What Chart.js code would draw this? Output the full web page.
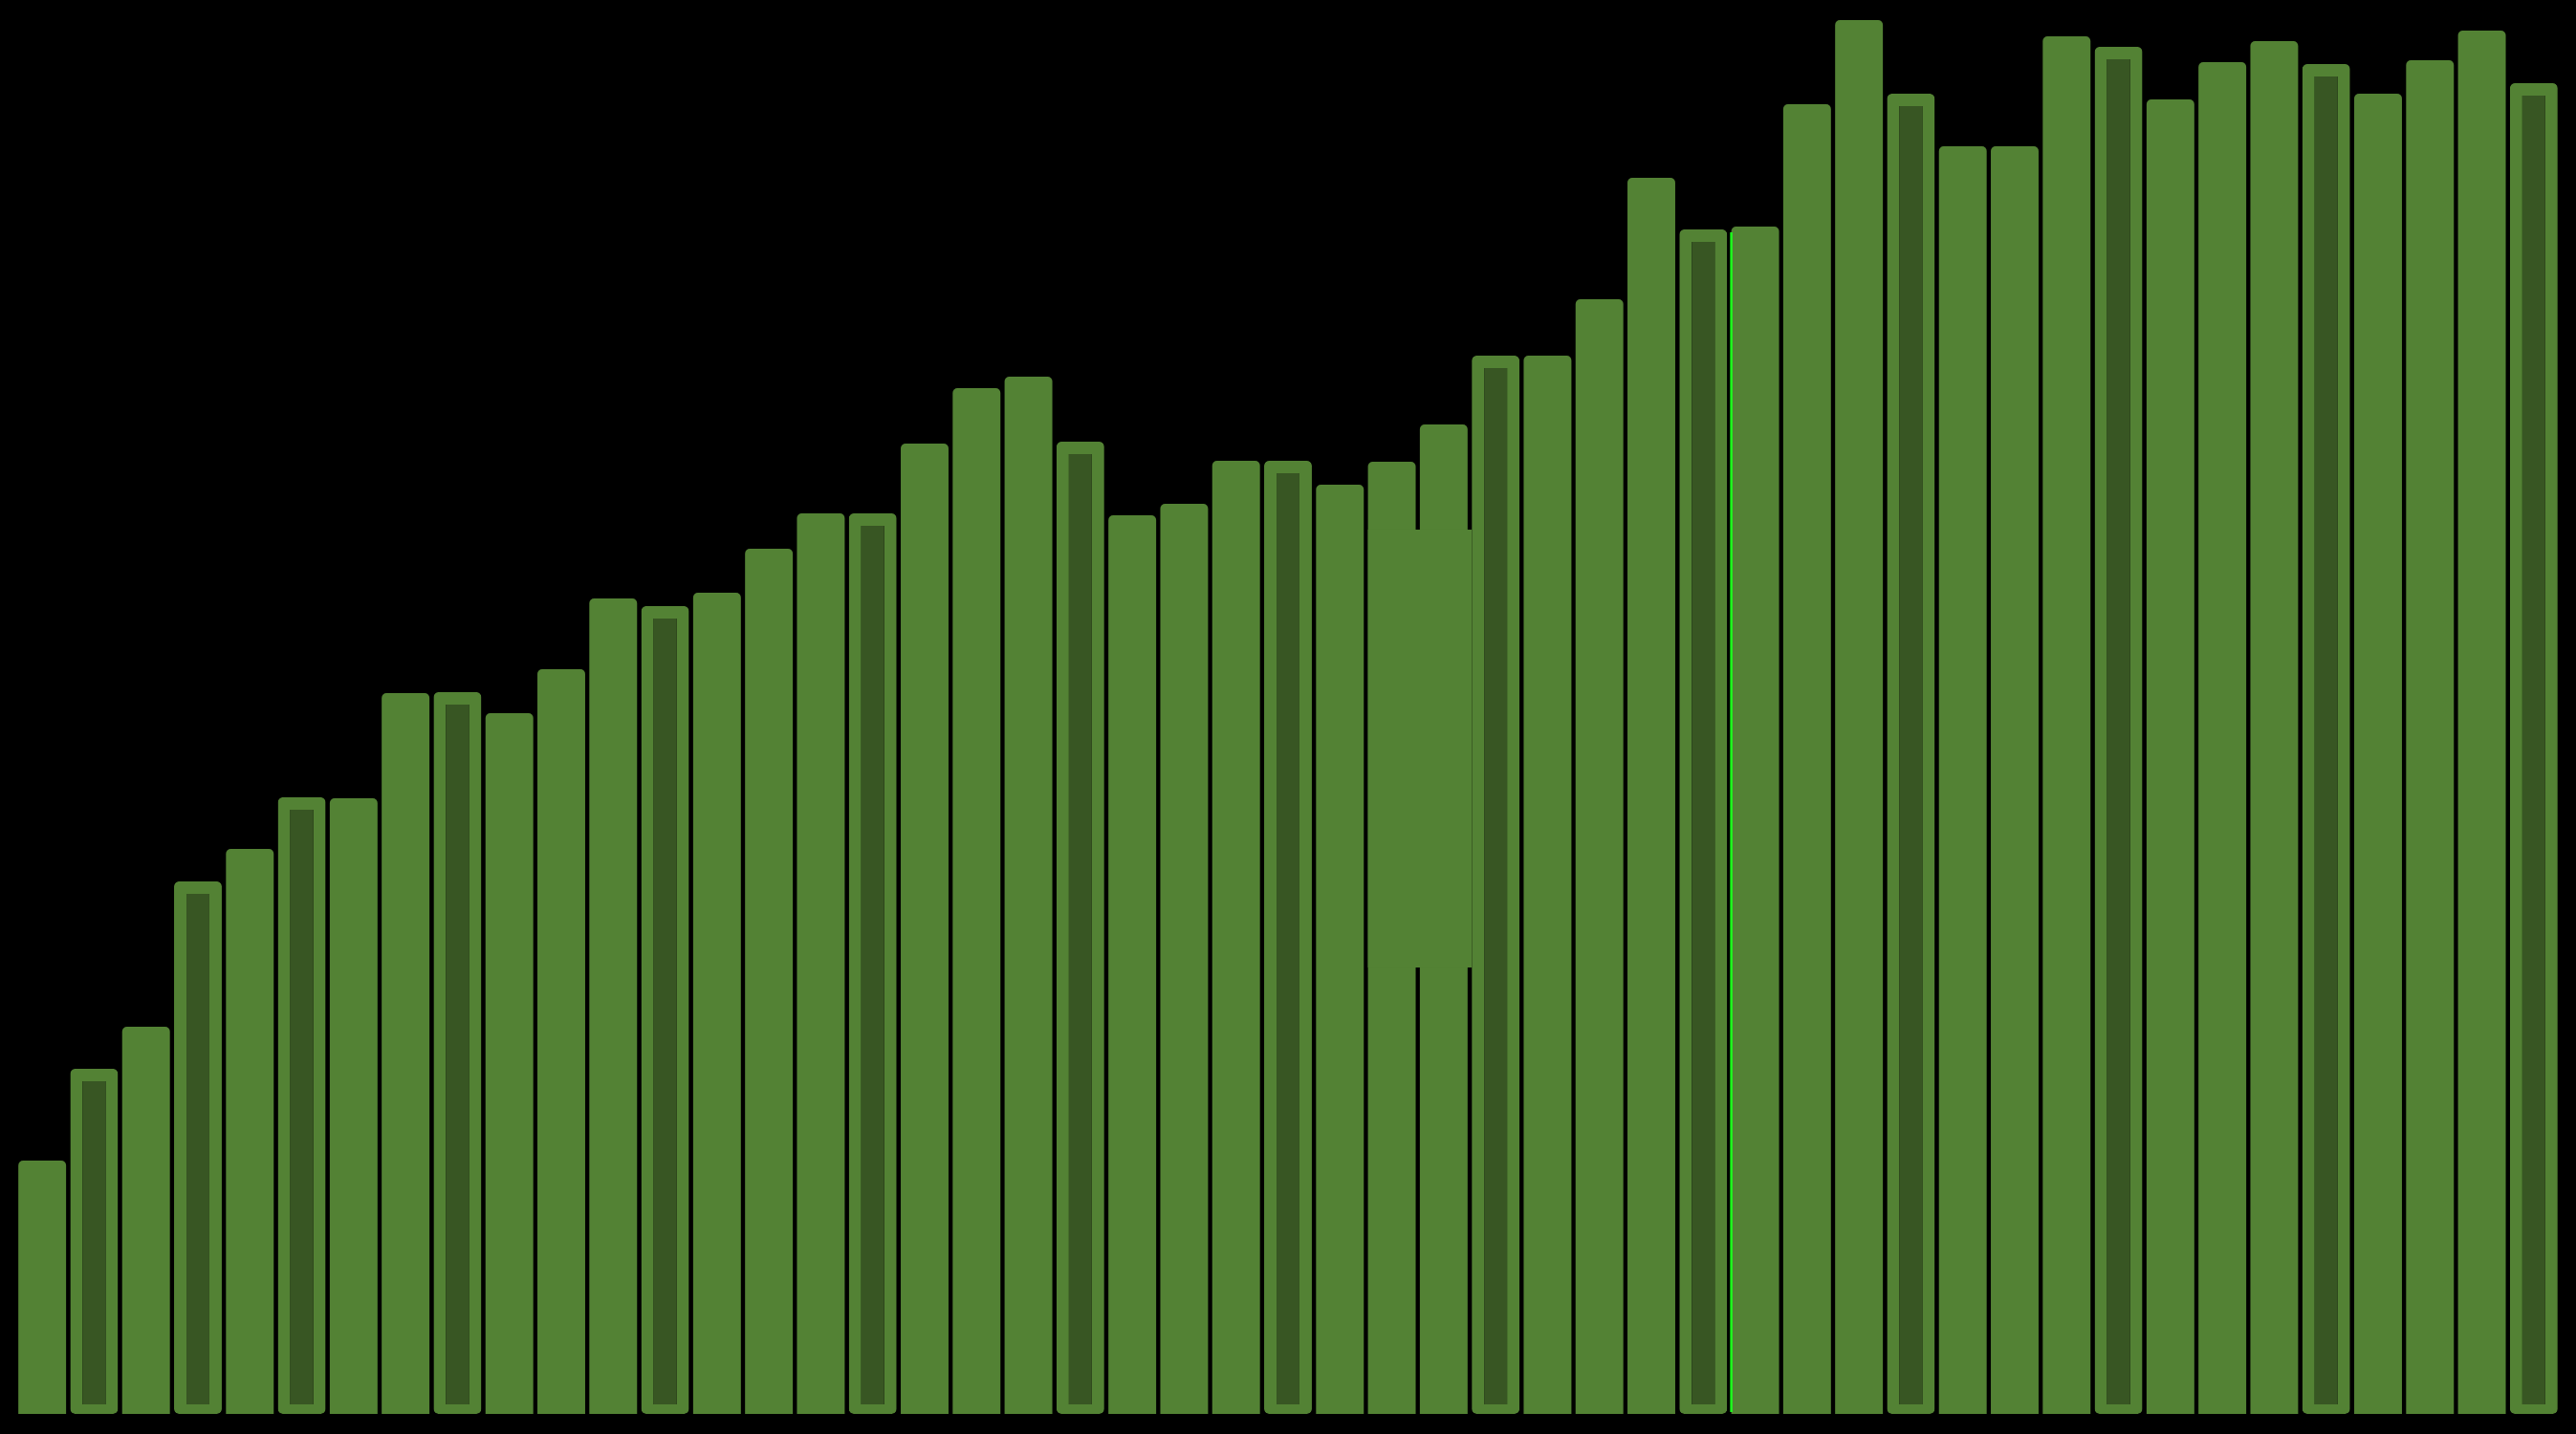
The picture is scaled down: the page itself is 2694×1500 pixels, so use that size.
<!DOCTYPE html>
<html>
<head>
<meta charset="utf-8">
<script src="https://cdn.jsdelivr.net/npm/chart.js@4/dist/chart.umd.min.js"></script>
<style>
  html, body { margin: 0; padding: 0; background: #000; overflow: hidden; }
  #wrap { width: 2694px; height: 1500px; }
</style>
</head>
<body>
<div id="wrap"><canvas id="c" width="2694" height="1500"></canvas></div>
<script>
// ---- data ----
const categories = Array.from({length: 49}, (_, i) => String(i + 1));
const values = [
  18.13, 24.69, 27.70, 38.10, 40.42, 44.12, 44.05, 51.57, 51.64, 50.14,
  53.28, 58.34, 57.80, 58.76, 61.90, 64.43, 64.43, 69.43, 73.39, 74.21,
  69.56, 64.30, 65.12, 68.19, 68.19, 66.48, 68.12, 70.79, 75.72, 75.72,
  79.75, 88.44, 84.75, 84.95, 93.71, 99.73, 94.46, 90.70, 90.70, 98.56,
  97.81, 94.05, 96.72, 98.22, 96.58, 94.46, 96.85, 98.97, 95.21
];
const highlighted = [1, 3, 5, 8, 12, 16, 20, 24, 28, 32, 36, 40, 44, 48];
// overlay block: spans from bar 27 to bar 29 (index 26..28), value range
const blockStartIndex = 26;
const blockEndIndex = 28;
const blockLow = 31.94;
const blockHigh = 63.27;
// bright marker line at the left edge of this bar
const markerIndex = 33;

const GREEN = '#538234';
const DARK = '#385623';
const BRIGHT = '#1cff1c';

const isHi = i => highlighted.includes(i);

const bgPlugin = {
  id: 'bg',
  beforeDraw(chart) {
    const ctx = chart.ctx;
    ctx.save();
    ctx.fillStyle = '#000';
    ctx.fillRect(0, 0, chart.width, chart.height);
    ctx.restore();
  }
};

const overlayPlugin = {
  id: 'overlay',
  afterDatasetsDraw(chart) {
    const ctx = chart.ctx;
    const meta = chart.getDatasetMeta(0);
    const y = chart.scales.y;
    const a = meta.data[blockStartIndex];
    const b = meta.data[blockEndIndex];
    const left = a.x - a.width / 2;
    const right = b.x - b.width / 2;
    const top = y.getPixelForValue(blockHigh);
    const bottom = y.getPixelForValue(blockLow);
    ctx.save();
    ctx.fillStyle = GREEN;
    ctx.fillRect(left, top, right - left, bottom - top);
    // marker line
    const m = meta.data[markerIndex];
    const mx = m.x - m.width / 2;
    ctx.strokeStyle = BRIGHT;
    ctx.lineWidth = 2.5;
    ctx.beginPath();
    ctx.moveTo(mx, m.y + 6);
    ctx.lineTo(mx, m.base - 2);
    ctx.stroke();
    ctx.restore();
  }
};

new Chart(document.getElementById('c'), {
  type: 'bar',
  data: {
    labels: categories,
    datasets: [{
      data: values,
      backgroundColor: values.map((v, i) => isHi(i) ? DARK : GREEN),
      borderColor: GREEN,
      borderWidth: values.map((v, i) => isHi(i) ? {top: 13, left: 13, right: 13, bottom: 10} : 0),
      borderSkipped: values.map((v, i) => isHi(i) ? false : 'start'),
      borderRadius: 5,
      categoryPercentage: 1.0,
      barPercentage: 0.92
    }]
  },
  options: {
    responsive: false,
    animation: false,
    devicePixelRatio: 1,
    layout: { padding: { left: 17, right: 17, top: 17, bottom: 21 } },
    plugins: { legend: { display: false }, tooltip: { enabled: false } },
    scales: {
      x: { display: false },
      y: { display: false, min: 0, max: 100 }
    }
  },
  plugins: [bgPlugin, overlayPlugin]
});
</script>
</body>
</html>
